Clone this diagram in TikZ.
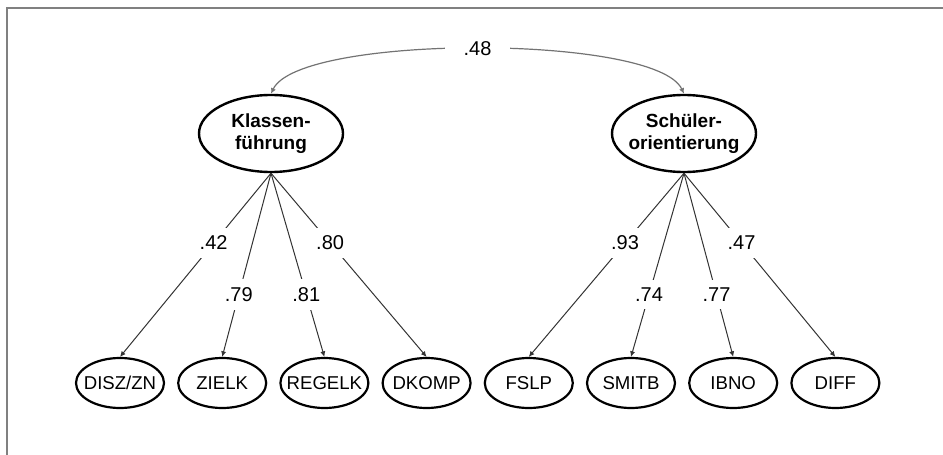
\documentclass[tikz,border=0pt]{standalone}
\usepackage{fontspec}
\setmainfont{Liberation Sans}
\usepackage{tikz}
\usetikzlibrary{
    shapes.geometric, % For ellipse
    arrows.meta,      % For Latex arrowheads
    positioning       % For right=of placement
}
\tikzset{
  % Style for the two latent factors
  factor/.style={
    ellipse, draw, line width=1.2pt, minimum width=72pt, minimum height=38.5pt,
    label={[font=\fontsize{9.5}{11}\selectfont\bfseries, align=center]center:#1}
  },
  % Style for the indicator ellipses
  ind/.style={
    ellipse, draw, line width=1.1pt, minimum width=44pt, minimum height=25pt,
    label={[font=\fontsize{9.3}{10}\selectfont]center:#1}
  },
  % Style for loading arrows
  load/.style={
    -{Latex[length=2.8pt,width=2.6pt]}, line width=0.5pt, black!80
  },
  % Style for the correlation arc
  corr/.style={
    {Latex[length=2.8pt,width=2.6pt]}-{Latex[length=2.8pt,width=2.6pt]},
    line width=0.6pt, draw=black!55
  },
  % Style for the coefficients on the arrows
  coef/.style={
    fill=white, text=black, inner sep=4pt, font=\fontsize{10}{12}\selectfont
  }
}

\begin{document}
\begin{tikzpicture}[x=0.5pt, y=-0.5pt, node distance=6pt]
    \useasboundingbox (0,0) rectangle (943,455);
    \draw[black!50, line width=1pt] (7,455) -- (7,8) -- (943,8);

    \node[factor={Klassen-\\führung}] (fuehrung) at (271,133.5) {};
    \node[factor={Schüler-\\orientierung}] (orient) at (684,133.5) {};

    \node[ind={DISZ/ZN}] (disz) at (120,383) {};
    \node[ind=ZIELK, right=of disz] (zielk) {};
    \node[ind=REGELK, right=of zielk] (regelk) {};
    \node[ind=DKOMP, right=of regelk] (dkomp) {};
    \node[ind=FSLP, right=of dkomp] (fslp) {};
    \node[ind=SMITB, right=of fslp] (smitb) {};
    \node[ind=IBNO, right=of smitb] (ibno) {};
    \node[ind=DIFF, right=of ibno] (diff) {};

    \draw[corr] (fuehrung.north) to[out=65, in=115, looseness=0.41] node[coef, inner xsep=9.5pt] {.48} (orient.north);

    \draw[load] (fuehrung.south) -- node[coef, pos=0.38] {.42} (disz.north);
    \draw[load] (fuehrung.south) -- node[coef, pos=0.66] {.79} (zielk.north);
    \draw[load] (fuehrung.south) -- node[coef, pos=0.66] {.81} (regelk.north);
    \draw[load] (fuehrung.south) -- node[coef, pos=0.38] {.80} (dkomp.north);

    \draw[load] (orient.south) -- node[coef, pos=0.38] {.93} (fslp.north);
    \draw[load] (orient.south) -- node[coef, pos=0.66] {.74} (smitb.north);
    \draw[load] (orient.south) -- node[coef, pos=0.66] {.77} (ibno.north);
    \draw[load] (orient.south) -- node[coef, pos=0.38] {.47} (diff.north);
\end{tikzpicture}
\end{document}
